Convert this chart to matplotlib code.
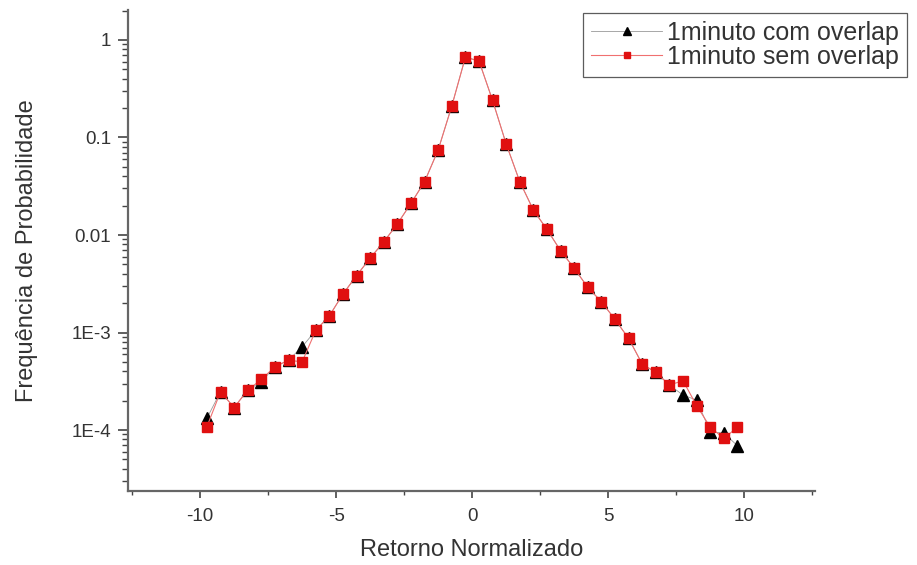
import matplotlib
matplotlib.use("Agg")
import matplotlib.pyplot as plt
from matplotlib.ticker import FixedLocator, FixedFormatter, LogLocator, NullFormatter, MultipleLocator

plt.rcParams['font.family'] = ['Liberation Sans', 'DejaVu Sans']

# ---- data ----
x_vals = [-9.75, -9.25, -8.75, -8.25, -7.75, -7.25, -6.75, -6.25, -5.75, -5.25,
          -4.75, -4.25, -3.75, -3.25, -2.75, -2.25, -1.75, -1.25, -0.75, -0.25,
          0.25, 0.75, 1.25, 1.75, 2.25, 2.75, 3.25, 3.75, 4.25, 4.75,
          5.25, 5.75, 6.25, 6.75, 7.25, 7.75, 8.25, 8.75, 9.25, 9.75]

com_overlap = [1.32e-4, 2.47e-4, 1.70e-4, 2.57e-4, 3.13e-4, 4.46e-4, 5.2e-4, 7.15e-4, 1.05e-3, 1.48e-3,
               2.48e-3, 3.83e-3, 5.8e-3, 8.5e-3, 0.013, 0.0211, 0.0352, 0.0745, 0.21, 0.665,
               0.61, 0.24, 0.0857, 0.0352, 0.018, 0.0114, 0.0069, 0.00456, 0.0029, 0.00207,
               0.00136, 8.7e-4, 4.75e-4, 3.9e-4, 2.9e-4, 2.28e-4, 2.03e-4, 9.6e-5, 9.3e-5, 6.9e-5]

sem_overlap = [1.08e-4, 2.47e-4, 1.70e-4, 2.57e-4, 3.3e-4, 4.46e-4, 5.2e-4, 5.0e-4, 1.05e-3, 1.48e-3,
               2.48e-3, 3.83e-3, 5.8e-3, 8.5e-3, 0.013, 0.0211, 0.0352, 0.0745, 0.21, 0.665,
               0.61, 0.24, 0.0857, 0.0352, 0.018, 0.0114, 0.0069, 0.00456, 0.0029, 0.00207,
               0.00136, 8.7e-4, 4.75e-4, 3.9e-4, 2.9e-4, 3.2e-4, 1.78e-4, 1.07e-4, 8.2e-5, 1.07e-4]

series_labels = ["1minuto com overlap", "1minuto sem overlap"]
x_ticks = [-10, -5, 0, 5, 10]
x_tick_labels = ["-10", "-5", "0", "5", "10"]
y_ticks = [1e-4, 1e-3, 1e-2, 1e-1, 1]
y_tick_labels = ["1E-4", "1E-3", "0.01", "0.1", "1"]
x_label = "Retorno Normalizado"
y_label = "Frequência de Probabilidade"

# ---- figure ----
W, H = 917, 565
fig = plt.figure(figsize=(W / 100, H / 100), dpi=100)
ax = fig.add_axes([128 / W, 1 - 491 / H, (815 - 128) / W, (491 - 10) / H])

red = '#e01010'
text_col = '#333333'

l1, = ax.plot(x_vals, com_overlap, color='#999999', lw=0.6, marker='^', ms=8.5,
              mfc='black', mec='black', label=series_labels[0], zorder=3)
l2, = ax.plot(x_vals, sem_overlap, color='#f07070', lw=0.8, marker='s', ms=6.5,
              mfc=red, mec=red, label=series_labels[1], zorder=4)

ax.set_yscale('log')
ax.set_xlim(-12.65, 12.6)
ax.set_ylim(2.37e-5, 2.03)

ax.xaxis.set_major_locator(FixedLocator(x_ticks))
ax.xaxis.set_major_formatter(FixedFormatter(x_tick_labels))
ax.xaxis.set_minor_locator(MultipleLocator(2.5))
ax.yaxis.set_major_locator(FixedLocator(y_ticks))
ax.yaxis.set_major_formatter(FixedFormatter(y_tick_labels))
ax.yaxis.set_minor_locator(LogLocator(base=10, subs=[2, 3, 4, 5, 6, 7, 8, 9], numticks=20))
ax.yaxis.set_minor_formatter(NullFormatter())

for s in ['top', 'right']:
    ax.spines[s].set_visible(False)
for s in ['left', 'bottom']:
    ax.spines[s].set_color('#666666')
    ax.spines[s].set_linewidth(1.6)

ax.tick_params(axis='x', which='major', direction='out', length=5, width=1.2,
               color='#444444', labelsize=13.5, labelcolor=text_col, pad=7)
ax.tick_params(axis='x', which='minor', direction='out', length=3, width=1.0, color='#444444')
ax.tick_params(axis='y', which='major', direction='out', length=7, width=1.2,
               color='#444444', labelsize=13.5, labelcolor=text_col, pad=5)
ax.tick_params(axis='y', which='minor', direction='out', length=4, width=1.0, color='#444444')

ax.set_xlabel(x_label, fontsize=17, color=text_col, labelpad=10)
ax.set_ylabel(y_label, fontsize=17, color=text_col, labelpad=24)

leg = fig.legend(handles=[l1, l2], loc='upper left',
                 bbox_to_anchor=(583 / W, 1 - 12.7 / H), borderaxespad=0,
                 fontsize=18, frameon=True, fancybox=False, shadow=False,
                 borderpad=0.32, handlelength=2.85, handletextpad=0.2,
                 labelspacing=0.02, markerscale=0.7)
leg.get_frame().set_edgecolor('#333333')
leg.get_frame().set_linewidth(0.9)
for t in leg.get_texts():
    t.set_color(text_col)

fig.savefig('out.png', dpi=100)
